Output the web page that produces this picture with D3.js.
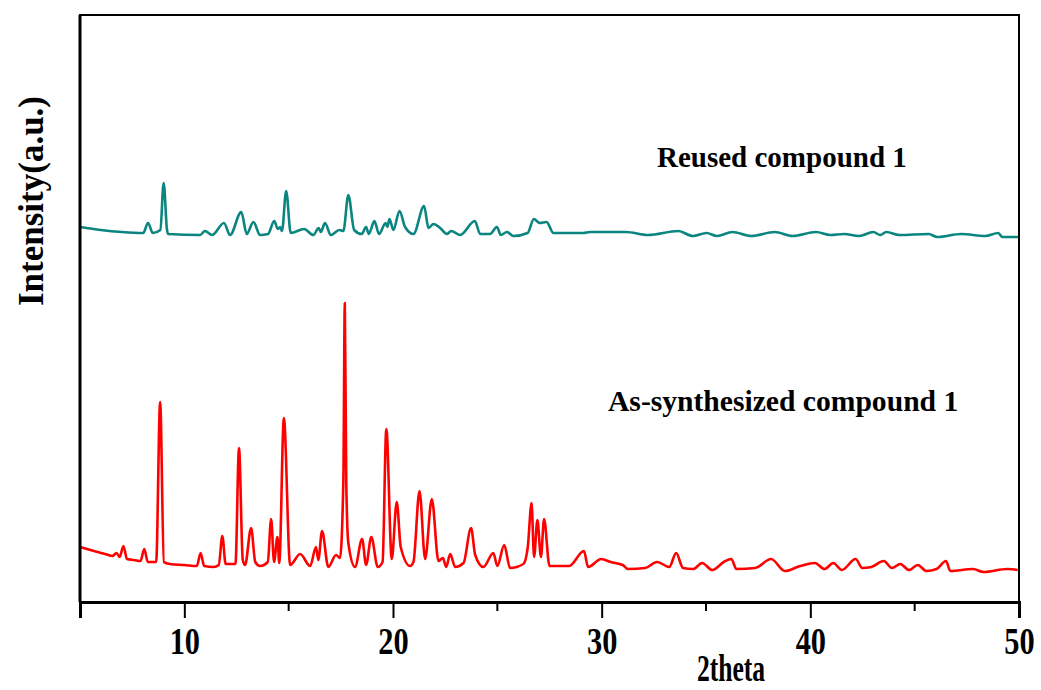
<!DOCTYPE html>
<html>
<head>
<meta charset="utf-8">
<script src="https://cdn.jsdelivr.net/npm/d3@7"></script>
<style>
  body { margin: 0; background: #fff; }
  text { font-family: "Liberation Serif", "Times New Roman", serif; font-weight: bold; }
</style>
</head>
<body>
<script>
var width = 1041, height = 690;

// [2theta, intensity (a.u.)]
var asSynthesized = [
  [5.00, 55], [5.50, 52], [6.20, 48], [6.55, 46], [6.75, 49], [6.90, 45], [7.08, 56], [7.25, 43],
  [7.60, 42], [7.90, 41], [8.08, 53], [8.25, 40], [8.65, 40], [8.84, 200], [9.02, 40], [9.30, 38],
  [10.00, 37], [10.60, 36], [10.78, 49], [10.95, 36], [11.40, 35], [11.65, 37], [11.82, 66], [11.98, 38],
  [12.45, 38], [12.62, 154], [12.80, 42], [12.91, 37], [13.20, 74], [13.40, 40], [13.63, 36],
  [14.00, 40], [14.16, 83], [14.30, 40], [14.46, 65], [14.55, 39], [14.77, 184], [15.07, 37],
  [15.55, 48], [16.03, 36], [16.31, 55], [16.42, 42], [16.60, 71], [16.90, 35], [17.27, 47],
  [17.46, 44], [17.62, 120], [17.69, 299], [17.76, 120], [17.86, 59], [18.18, 35], [18.52, 63], [18.71, 37],
  [18.96, 65], [19.27, 35], [19.50, 40], [19.68, 173], [19.94, 43], [20.18, 100], [20.37, 55], [20.82, 36],
  [20.98, 40], [21.27, 111], [21.54, 43], [21.86, 103], [22.18, 41], [22.39, 44], [22.55, 35],
  [22.74, 48], [22.98, 35], [23.38, 39], [23.74, 74], [23.94, 47], [24.33, 35], [24.81, 49],
  [25.00, 36], [25.33, 57], [25.61, 34], [26.25, 38], [26.46, 55], [26.64, 99], [26.76, 45],
  [26.92, 82], [27.09, 45], [27.24, 83], [27.50, 36], [28.44, 36], [29.15, 51], [29.35, 35],
  [29.98, 43], [30.43, 40], [31.01, 37], [31.26, 33], [32.09, 34], [32.66, 40], [33.24, 35],
  [33.57, 49], [33.90, 34], [34.39, 33], [34.81, 39], [35.30, 32], [35.85, 40], [36.21, 43],
  [36.46, 33], [37.36, 34], [38.12, 43], [38.78, 31], [39.52, 36], [40.22, 39], [40.68, 33],
  [41.10, 39], [41.51, 32], [42.17, 43], [42.49, 34], [42.92, 35], [43.52, 41], [43.91, 34],
  [44.31, 38], [44.73, 32], [45.15, 37], [45.56, 31], [46.05, 33], [46.50, 41], [46.71, 31],
  [47.80, 33], [48.29, 30], [49.44, 33], [49.94, 32]
];

var reused = [
  [5.00, 375], [6.00, 372], [7.00, 370], [8.03, 369], [8.26, 379], [8.49, 369], [8.85, 372], [9.01, 419],
  [9.17, 372], [9.23, 368], [10.75, 367], [10.99, 371], [11.33, 367], [11.90, 379], [12.19, 367],
  [12.73, 390], [12.99, 368], [13.31, 380], [13.63, 367], [14.01, 368], [14.31, 381], [14.48, 373],
  [14.59, 375], [14.68, 371], [14.88, 411], [15.10, 369], [15.74, 373], [16.18, 367], [16.44, 374],
  [16.54, 370], [16.74, 379], [17.02, 367], [17.43, 372], [17.62, 371], [17.86, 407], [18.14, 372],
  [18.50, 368], [18.71, 375], [18.84, 368], [19.11, 381], [19.33, 368], [19.65, 379], [19.73, 375],
  [19.83, 383], [20.02, 372], [20.31, 391], [20.58, 375], [20.98, 368], [21.49, 396], [21.70, 374],
  [21.94, 378], [22.26, 374], [22.58, 368], [22.79, 371], [23.22, 367], [23.92, 381], [24.18, 368],
  [24.65, 368], [24.98, 375], [25.17, 367], [25.46, 370], [25.77, 366], [26.45, 369], [26.75, 383],
  [27.03, 379], [27.36, 380], [27.69, 369], [29.11, 369], [29.45, 370], [31.16, 370], [32.23, 367],
  [33.67, 371], [34.37, 366], [35.03, 369], [35.52, 366], [36.27, 370], [37.17, 366], [38.29, 370],
  [39.15, 366], [40.27, 370], [40.96, 367], [41.62, 368], [42.34, 366], [43.02, 370], [43.35, 367],
  [43.64, 370], [44.26, 367], [45.67, 368], [46.08, 365], [47.23, 368], [48.38, 366], [49.01, 369],
  [49.20, 365], [49.95, 365]
];

var majorTicks = [10, 20, 30, 40, 50];
var minorTicks = [5, 15, 25, 35, 45];
var seriesLabels = ["Reused compound 1", "As-synthesized compound 1"];

var margin = {left: 80, top: 15, right: 22, bottom: 88};
var plotW = width - margin.left - margin.right;
var plotH = height - margin.top - margin.bottom;

var svg = d3.select("body").append("svg")
    .attr("width", width)
    .attr("height", height);

var x = d3.scaleLinear().domain([5, 50]).range([0, plotW]);
var y = d3.scaleLinear().domain([0, 587]).range([plotH, 0]);

var g = svg.append("g")
    .attr("transform", "translate(" + margin.left + "," + margin.top + ")");

var line = d3.line()
    .curve(d3.curveMonotoneX)
    .x(function(d) { return x(d[0]); })
    .y(function(d) { return y(d[1]); });

g.append("path")
    .datum(reused)
    .attr("fill", "none")
    .attr("stroke", "#0a8580")
    .attr("stroke-width", 2.6)
    .attr("stroke-linejoin", "round")
    .attr("d", line);

g.append("path")
    .datum(asSynthesized)
    .attr("fill", "none")
    .attr("stroke", "#ff0000")
    .attr("stroke-width", 2.6)
    .attr("stroke-linejoin", "round")
    .attr("d", line);

// frame
g.append("rect")
    .attr("width", plotW)
    .attr("height", plotH)
    .attr("fill", "none")
    .attr("stroke", "#000")
    .attr("stroke-width", 2);

// bottom axis, major and minor ticks
var xAxis = g.append("g")
    .attr("transform", "translate(0," + plotH + ")")
    .call(d3.axisBottom(x).tickValues(majorTicks).tickSize(16).tickFormat(d3.format("d")));
xAxis.select(".domain").attr("stroke-width", 3);
xAxis.selectAll(".tick line").attr("stroke-width", 2);
xAxis.selectAll(".tick text")
    .attr("y", 0)
    .attr("dy", null)
    .attr("transform", "translate(0,52) scale(0.95,1.2)")
    .attr("font-size", 32)
    .attr("fill", "#000")
    .style("font-family", "'Liberation Serif', serif")
    .style("font-weight", "bold");

g.append("g")
    .attr("transform", "translate(0," + plotH + ")")
    .selectAll("line")
    .data(minorTicks)
    .enter()
    .append("line")
    .attr("x1", function(d) { return x(d); })
    .attr("x2", function(d) { return x(d); })
    .attr("y1", 0)
    .attr("y2", 9)
    .attr("stroke", "#000")
    .attr("stroke-width", 2);

// left edge heavier
g.append("line")
    .attr("x1", 0).attr("x2", 0)
    .attr("y1", 0).attr("y2", plotH)
    .attr("stroke", "#000")
    .attr("stroke-width", 3);

// axis titles
svg.append("text")
    .attr("transform", "translate(731,681) scale(0.8,1.2)")
    .attr("text-anchor", "middle")
    .attr("font-size", 32)
    .text("2theta");

svg.append("text")
    .attr("transform", "translate(43,201) rotate(-90)")
    .attr("text-anchor", "middle")
    .attr("font-size", 35)
    .text("Intensity(a.u.)");

// curve labels
svg.append("text")
    .attr("x", 657)
    .attr("y", 167)
    .attr("font-size", 29)
    .text(seriesLabels[0]);

svg.append("text")
    .attr("x", 608)
    .attr("y", 411)
    .attr("font-size", 29.6)
    .text(seriesLabels[1]);
</script>
</body>
</html>
